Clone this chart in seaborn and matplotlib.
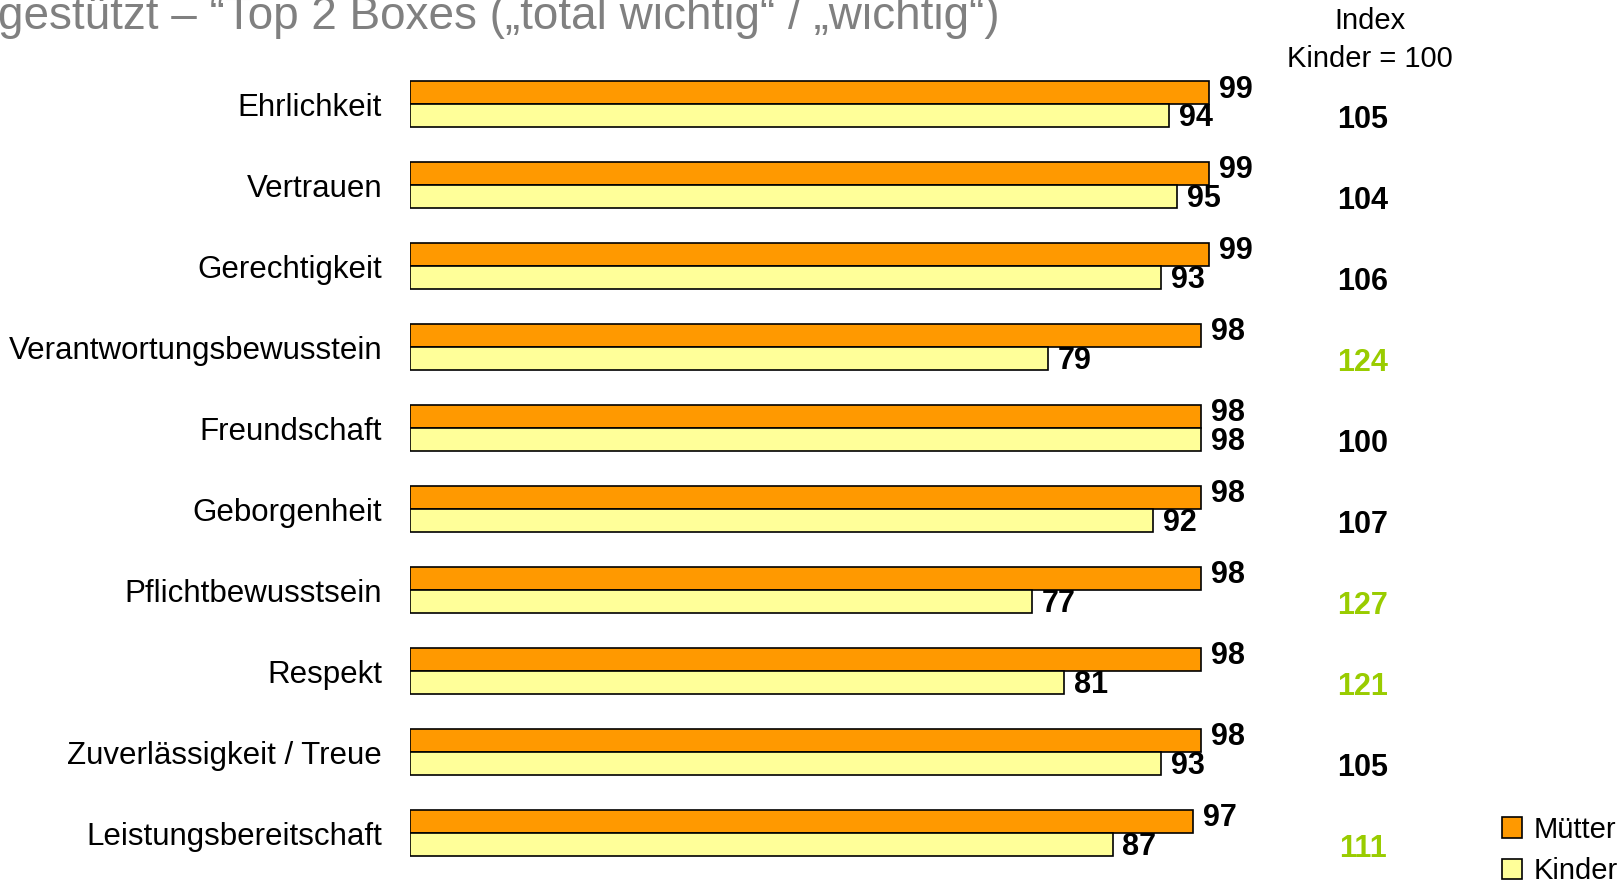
import pandas as pd
import matplotlib.pyplot as plt
import seaborn as sns

# values
categories = ['Ehrlichkeit', 'Vertrauen', 'Gerechtigkeit', 'Verantwortungsbewusstein',
              'Freundschaft', 'Geborgenheit', 'Pflichtbewusstsein', 'Respekt',
              'Zuverlässigkeit / Treue', 'Leistungsbereitschaft']
muetter = [99, 99, 99, 98, 98, 98, 98, 98, 98, 97]
kinder = [94, 95, 93, 79, 98, 92, 77, 81, 93, 87]
index_values = [105, 104, 106, 124, 100, 107, 127, 121, 105, 111]
index_highlight = [False, False, False, True, False, False, True, True, False, True]

series_names = ['Mütter', 'Kinder']
series_colors = ['#FF9900', '#FFFF99']

df = pd.DataFrame({
    'Kategorie': categories * 2,
    'Gruppe': [series_names[0]] * len(categories) + [series_names[1]] * len(categories),
    'Wert': muetter + kinder,
})

sns.set_style('white')
plt.rcParams['font.family'] = ['Liberation Sans', 'DejaVu Sans']
plt.rcParams['text.color'] = 'black'
plt.rcParams['ytick.color'] = 'black'

fig = plt.figure(figsize=(16.19, 8.86), dpi=100)
ax = fig.add_axes([0.2532, 0.014, 0.752 - 0.2532, 0.914])

sns.barplot(data=df, y='Kategorie', x='Wert', hue='Gruppe', order=categories,
            hue_order=series_names, palette=series_colors, saturation=1, orient='h',
            width=0.57, gap=0, edgecolor='black', linewidth=1.2, ax=ax)

# orange labels a touch higher, yellow ones a touch lower, like the slide
for cont, dy in zip(ax.containers, [-0.04, 0.03]):
    texts = ax.bar_label(cont, padding=7, fontsize=22, fontweight='bold',
                         color='black', clip_on=False)
    for t in texts:
        x, y = t.xy
        t.xy = (x, y + dy)

ax.set_xlim(0, 100)
ax.set_ylim(len(categories) - 0.5, -0.5)
ax.set_xlabel('')
ax.set_ylabel('')
ax.set_xticks([])
ax.tick_params(axis='y', length=0, pad=20, labelsize=22.5, labelcolor='black')
for s in ax.spines.values():
    s.set_visible(False)

# index column
trans = ax.get_yaxis_transform()
for i, (v, hl) in enumerate(zip(index_values, index_highlight)):
    ax.text(1.18, i + 0.2, str(v), transform=trans, ha='center', va='center',
            fontsize=22, fontweight='bold', color='#99CC00' if hl else 'black',
            clip_on=False)

fig.text(1370 / 1619, 1 - 21 / 886, 'Index', ha='center', va='center', fontsize=21)
fig.text(1370 / 1619, 1 - 59 / 886, 'Kinder = 100', ha='center', va='center', fontsize=21)

# title, cut at the top edge as in the original slide
fig.text(-0.001, 1 - 29 / 886, 'gestützt – “Top 2 Boxes („total wichtig“ / „wichtig“)',
         ha='left', va='baseline', fontsize=33, color='#808080')

handles, labels = ax.get_legend_handles_labels()
ax.legend_.remove()
fig.legend(handles, labels, loc='lower left', bbox_to_anchor=(1490 / 1619, -0.012),
           frameon=False, fontsize=21, handlelength=0.7, handleheight=0.7,
           handletextpad=0.4, labelspacing=0.45, borderaxespad=0)

fig.savefig('out.png', dpi=100)
